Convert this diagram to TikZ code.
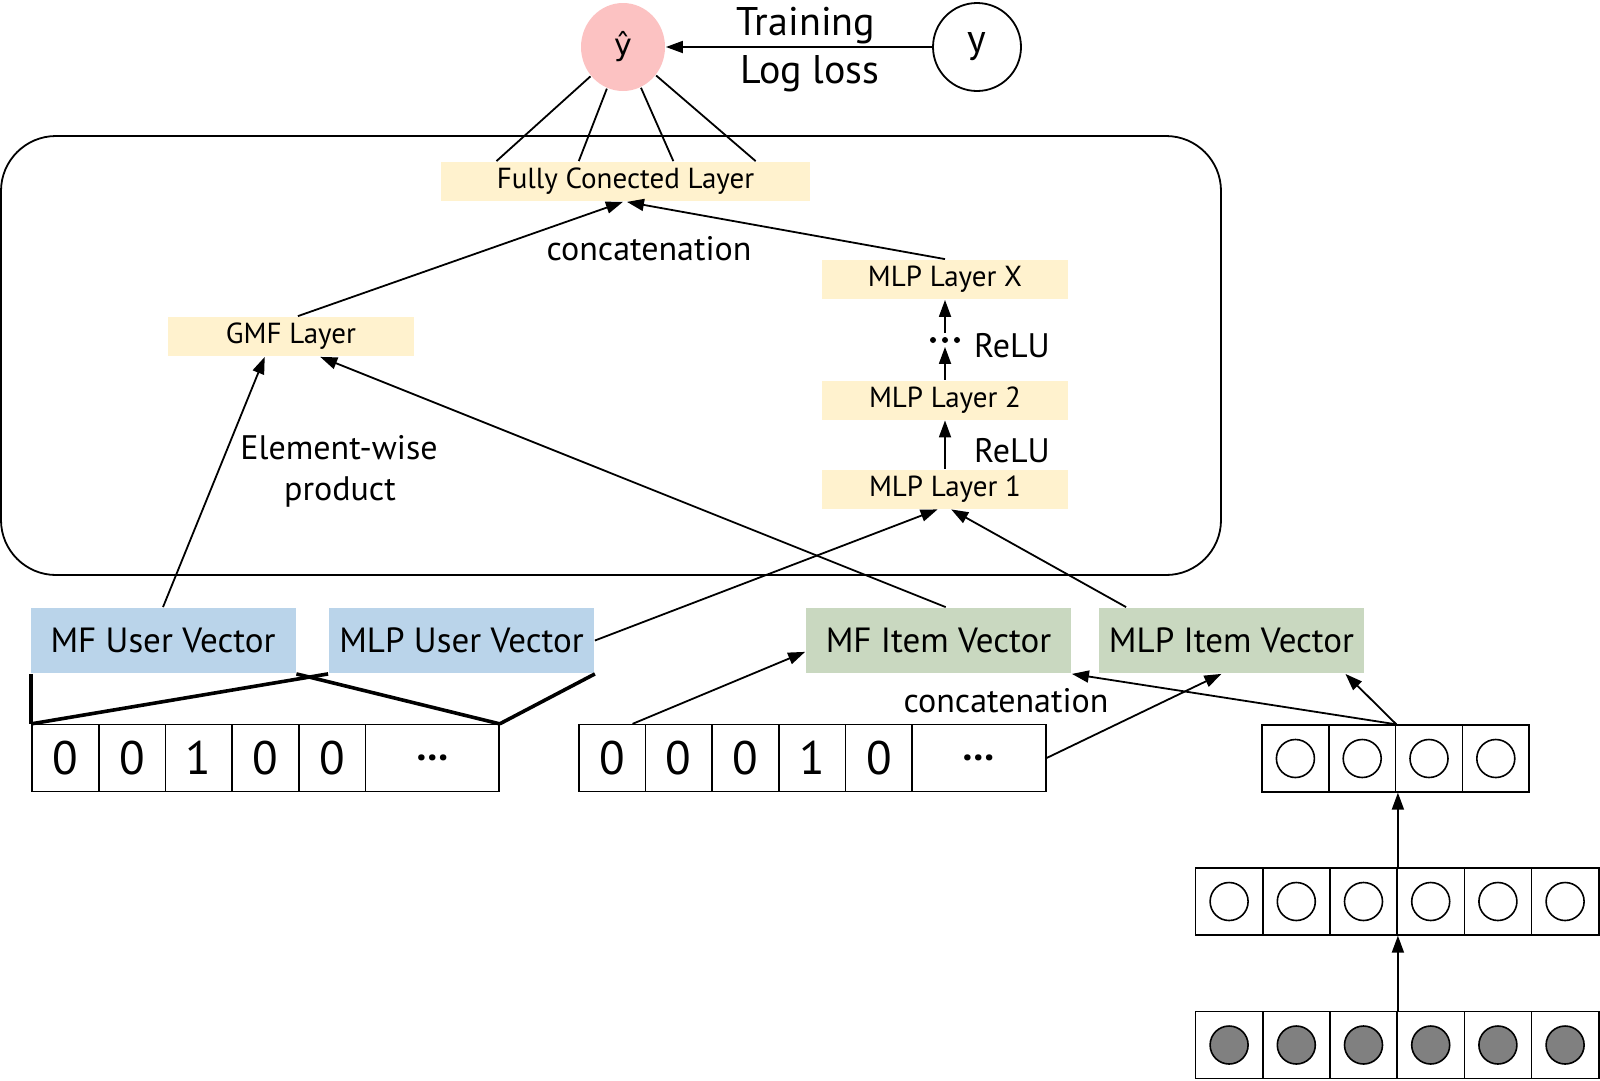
\documentclass[tikz,border=0pt]{standalone}
\usepackage{fontspec}
\setmainfont{PT Sans}
\newfontfamily\dejavu{DejaVu Sans}
\usetikzlibrary{shapes.geometric,arrows.meta,calc}
\definecolor{pinkc}{RGB}{252,194,194}
\definecolor{layc}{RGB}{255,242,206}
\definecolor{bluec}{RGB}{186,212,234}
\definecolor{greenc}{RGB}{201,216,192}
\definecolor{grayc}{RGB}{128,128,128}
\begin{document}
\begin{tikzpicture}[x=1pt,y=-1pt,
  line width=1.8pt,
  arr/.style={-{Triangle[length=17pt,width=12pt]}},
  layer/.style={fill=layc, minimum width=246pt, minimum height=39pt, inner sep=0pt, font=\fontsize{29}{34}\selectfont},
  vec/.style={minimum width=265pt, minimum height=65pt, inner sep=0pt, font=\fontsize{35}{40}\selectfont},
  cell/.style={draw, line width=1.6pt, minimum width=66.7pt, minimum height=66.7pt, inner sep=0pt, font=\fontsize{47}{52}\selectfont},
  lbl/.style={inner sep=0pt, font=\fontsize{34}{40}\selectfont},
  big/.style={inner sep=0pt, font=\fontsize{40}{46}\selectfont},
  dot/.style={circle, draw, line width=1.6pt, minimum size=38pt, inner sep=0pt},
  thick line/.style={line width=3.6pt}
]
\useasboundingbox (0,0) rectangle (1600,1080);

% frame
\node[draw, rounded corners=55pt, minimum width=1220pt, minimum height=439pt, inner sep=0pt] (frame) at (611,355.5) {};

% top
\node[ellipse, fill=pinkc, minimum width=84pt, minimum height=88pt, inner sep=0pt, font=\fontsize{30}{36}\selectfont\dejavu] (yhat) at (623,47) {ŷ};
\node[circle, draw, minimum size=88pt, inner sep=0pt, font=\fontsize{40}{44}\selectfont] (y) at (977,47) {y};
\draw[arr] (y) -- (yhat);
\node[big, anchor=base] (train) at (806,35) {Training};
\node[big, anchor=base] (logl) at (810,83) {Log loss};

% layers
\node[layer, minimum width=369pt] (fc) at (625.5,181.5) {Fully Conected Layer};
\node[layer] (gmf) at (291,336.5) {GMF Layer};
\node[layer] (lx) at (945,279.5) {MLP Layer X};
\node[layer] (l2) at (945,400) {MLP Layer 2};
\node[layer] (l1) at (945,489) {MLP Layer 1};
\node[inner sep=0pt, minimum width=30pt, minimum height=12pt] (rdots) at (945,340) {};
\foreach \dx in {-12,0,12} \fill ($(rdots.center)+(\dx,0)$) circle (3pt);

\foreach \f in {0.152,0.374,0.629,0.851}
  \draw ($(fc.north west)!\f!(fc.north east)$) -- (yhat);

\draw[arr] ($(gmf.north west)!0.528!(gmf.north east)$) -- ($(fc.south west)!0.493!(fc.south east)$);
\draw[arr] (lx.north) -- ($(fc.south west)!0.504!(fc.south east)$);
\draw[arr] (l2.north) -- (rdots.south);
\draw[arr] (rdots.north) -- (lx.south);
\draw[arr] (l1.north) -- (l2.south);

\node[lbl, anchor=base] (concat1) at (649,260) {concatenation};
\node[lbl, anchor=base] (relu1) at (1012,357) {ReLU};
\node[lbl, anchor=base] (relu2) at (1012,462) {ReLU};
\node[lbl, anchor=base] (elem) at (339,459) {Element-wise};
\node[lbl, anchor=base] (prod) at (340,500) {product};

% vectors
\node[vec, fill=bluec] (mfu) at (163,640.5) {MF User Vector};
\node[vec, fill=bluec] (mlpu) at (461.5,640.5) {MLP User Vector};
\node[vec, fill=greenc] (mfi) at (938.5,640.5) {MF Item Vector};
\node[vec, fill=greenc] (mlpi) at (1231.5,640.5) {MLP Item Vector};

% one-hot user
\foreach \i/\t in {1/0,2/0,3/1,4/0,5/0}
  \node[cell] (u\i) at ({32+66.7*(\i-0.5)},758) {\t};
\node[cell, minimum width=133.4pt, font=\fontsize{40}{44}\selectfont\bfseries] (ud) at (432.2,758) {…};
% one-hot item
\foreach \i/\t in {1/0,2/0,3/0,4/1,5/0}
  \node[cell] (i\i) at ({578.7+66.7*(\i-0.5)},758) {\t};
\node[cell, minimum width=133.4pt, font=\fontsize{40}{44}\selectfont\bfseries] (id) at (979.1,758) {…};

% circle grids
\foreach \i in {1,...,4} {
  \node[cell] (t\i) at ({1262+66.8*(\i-0.5)},758.5) {};
  \node[dot] (tc\i) at (t\i) {};
}
\foreach \i in {1,...,6} {
  \node[cell, minimum width=67.2pt] (m\i) at ({1195.5+67.2*(\i-0.5)},901.5) {};
  \node[dot] (mc\i) at (m\i) {};
  \node[cell, minimum width=67.2pt] (b\i) at ({1195.5+67.2*(\i-0.5)},1045) {};
  \node[dot, fill=grayc] (bc\i) at (b\i) {};
}

% connectors from vectors
\draw[arr] (mfu.north) -- ($(gmf.south west)!0.394!(gmf.south east)$);
\draw[arr] ($(mfi.north west)!0.527!(mfi.north east)$) -- ($(gmf.south west)!0.618!(gmf.south east)$);
\draw[arr] (mlpu.east) -- ($(l1.south west)!0.47!(l1.south east)$);
\draw[arr] ($(mlpi.north west)!0.105!(mlpi.north east)$) -- ($(l1.south west)!0.525!(l1.south east)$);

% user funnel
\draw[thick line] (u1.north west |- mfu.south) -- (u1.north west);
\draw[thick line] (mfu.south east) -- (ud.north east);
\draw[thick line] (mlpu.south west) -- (u1.north west);
\draw[thick line] (mlpu.south east) -- (ud.north east);

% item connectors
\draw[arr] ($(i1.north west)!0.8!(i1.north east)$) -- ($(mfi.south west)!0.33!(mfi.north west)$);
\draw[arr] (id.east) -- ($(mlpi.south west)!0.462!(mlpi.south east)$);
\draw[arr] (t2.north east) -- (mfi.south east);
\draw[arr] (t2.north east) -- ($(mlpi.south west)!0.927!(mlpi.south east)$);
\node[lbl, anchor=base] (concat2) at (1006,712) {concatenation};

% grid arrows
\draw[arr] (m3.north east) -- (m3.north east |- t2.south);
\draw[arr] (b3.north east) -- (b3.north east |- m3.south);
\end{tikzpicture}
\end{document}
